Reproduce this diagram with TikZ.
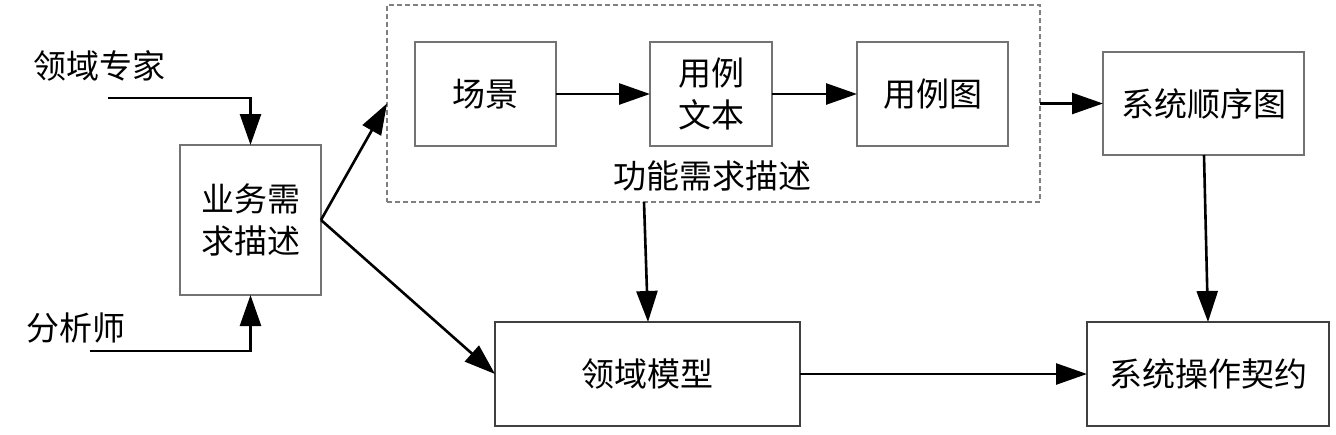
\documentclass[tikz,border=0pt]{standalone}
\usepackage{fontspec}
\newfontfamily\cjk{Noto Sans CJK SC}
\usetikzlibrary{arrows.meta}
\begin{document}
\begin{tikzpicture}[x=1pt,y=-1pt,
  txt/.style={font=\cjk\fontsize{33}{42}\selectfont, align=center, inner sep=0pt},
  box/.style={txt, draw=black!55, line width=1.3pt, outer sep=0pt},
  darkbox/.style={box, draw=black!75},
  dashbox/.style={draw=black!50, line width=1.2pt, dash pattern=on 5pt off 3pt, inner sep=0pt, outer sep=0pt},
  arr/.style={line width=2.6pt, -{Triangle[length=31pt,width=21pt]}}]
\useasboundingbox (0,0) rectangle (1336,434);
\node[box, minimum width=141pt, minimum height=150pt] (biz) at (250.5,220) {业务需\\求描述};
\node[box, minimum width=141pt, minimum height=104pt] (scene) at (485.5,94) {场景};
\node[box, minimum width=122pt, minimum height=104pt] (uct) at (711,94) {用例\\文本};
\node[box, minimum width=151pt, minimum height=104pt] (ucd) at (932.5,94) {用例图};
\node[dashbox, minimum width=653pt, minimum height=197pt] (func) at (713.5,103.5) {};
\node[txt] (funclabel) at (712,176) {功能需求描述};
\node[box, minimum width=201pt, minimum height=103pt] (ssd) at (1203.5,103.5) {系统顺序图};
\node[darkbox, minimum width=305pt, minimum height=104pt] (dm) at (647.5,374) {领域模型};
\node[darkbox, minimum width=242pt, minimum height=104pt] (soc) at (1208,374) {系统操作契约};
\node[txt] (expert) at (100,66) {领域专家};
\node[txt] (analyst) at (76,328) {分析师};
\coordinate (e0) at (108,98);
\coordinate (a0) at (90,351);
\draw[arr] (e0) -- (e0 -| biz.north) -- (biz.north);
\draw[arr] (a0) -- (a0 -| biz.south) -- (biz.south);
\draw[arr] (biz.east) -- (func.west);
\draw[arr] (biz.east) -- (dm.west);
\draw[arr] (scene.east) -- (uct.west);
\draw[arr] (uct.east) -- (ucd.west);
\draw[arr] (func.east) -- (ssd.west);
\draw[arr] ([xshift=-69.5pt]func.south) -- ([xshift=0.5pt]dm.north);
\draw[arr] ([xshift=0.5pt]ssd.south) -- (soc.north);
\draw[arr] (dm.east) -- (soc.west);
\end{tikzpicture}
\end{document}
